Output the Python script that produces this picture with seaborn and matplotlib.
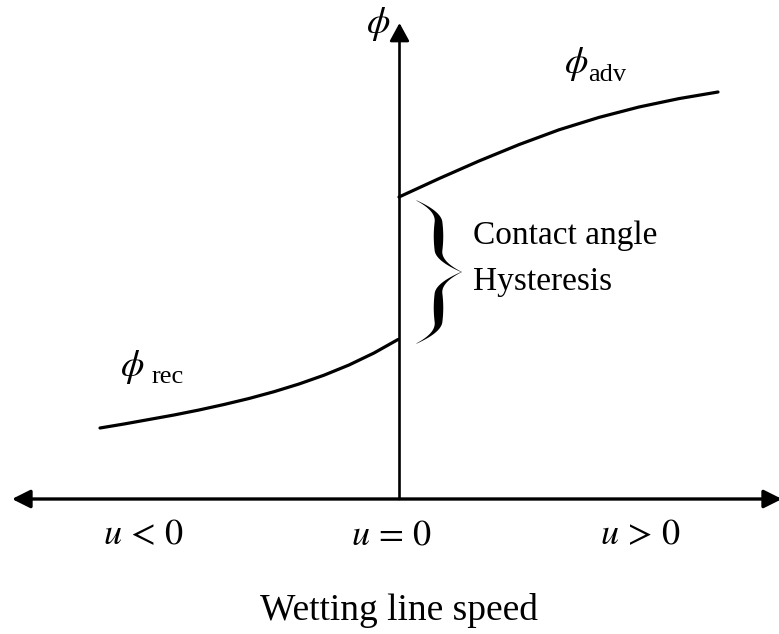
import numpy as np
import pandas as pd
import matplotlib
matplotlib.use("Agg")
import matplotlib.pyplot as plt
import seaborn as sns

# ---- data (u = wetting line speed, phi = contact angle; schematic units) ----
adv_u = [0, 40, 80, 120, 160, 200, 240, 280, 319]
adv_phi = [302, 320.4, 338, 354.4, 369.2, 381.6, 392, 400.4, 407]
rec_u = [-299, -275, -250, -225, -200, -175, -150, -125, -100, -75, -50, -25, -1]
rec_phi = [71, 75, 79.5, 84, 89, 94.5, 100.5, 107.3, 115, 123.8, 134, 146, 159.5]
tick_labels = [r"$u\,<\,0$", r"$u\,=\,0$", r"$u\,>\,0$"]
tick_pos = [-255, -7, 242]
x_label = "Wetting line speed"
annot_lines = ["Contact angle", "Hysteresis"]

sns.set_theme(style="white")
plt.rcParams["font.family"] = ["Liberation Serif", "DejaVu Serif"]
plt.rcParams["mathtext.fontset"] = "stix"
plt.rcParams["text.color"] = "black"

fig = plt.figure(figsize=(7.79, 6.34), dpi=100)
ax = fig.add_axes([0, 0, 1, 1])
ax.set_xlim(-399, 380)
ax.set_ylim(-135, 499)
ax.axis("off")

df_adv = pd.DataFrame({"u": adv_u, "phi": adv_phi})
df_rec = pd.DataFrame({"u": rec_u, "phi": rec_phi})
sns.lineplot(data=df_adv, x="u", y="phi", ax=ax, color="black", lw=2.3, sort=False)
sns.lineplot(data=df_rec, x="u", y="phi", ax=ax, color="black", lw=2.3, sort=False)

# axes arrows
ax.annotate("", xy=(-387, 0), xytext=(383, 0),
            arrowprops=dict(arrowstyle="<|-|>,head_length=11,head_width=5.5",
                            mutation_scale=1, lw=2.4, color="black",
                            shrinkA=0, shrinkB=0))
ax.annotate("", xy=(0.5, 476), xytext=(0.5, 0),
            arrowprops=dict(arrowstyle="-|>,head_length=11,head_width=6",
                            mutation_scale=1, lw=1.9, color="black",
                            shrinkA=0, shrinkB=0))

# curly brace
def brace(ax, x_end, x_body, x_tip, y_top, y_bot, k=0.3, wmax=9.5, wmin=0.8):
    y_mid = 0.5 * (y_top + y_bot)
    s = np.linspace(0, 1, 400)
    g = lambda t: np.where(t < k, (1 - t / k) ** 2, 0.0)
    xc = x_body + (x_end - x_body) * g(s) + (x_tip - x_body) * g(1 - s)
    w = wmin + (wmax - wmin) * np.sin(np.pi * s) ** 1.1
    yt = y_top + (y_mid - y_top) * s
    yb = y_bot + (y_mid - y_bot) * s
    ax.fill_betweenx(yt, xc - w / 2, xc + w / 2, color="black", lw=0)
    ax.fill_betweenx(yb, xc - w / 2, xc + w / 2, color="black", lw=0)

brace(ax, 17, 39, 62, 299, 156)

# labels
ax.text(-21, 475, r"$\phi$", fontsize=27, ha="center", va="center", color="black")
ax.text(177, 435, r"$\phi$", fontsize=27, ha="center", va="center", color="black")
ax.text(208, 424, "adv", fontsize=19, ha="center", va="center", color="black")
ax.text(-267, 132, r"$\phi$", fontsize=27, ha="center", va="center", color="black")
ax.text(-231, 122, "rec", fontsize=19, ha="center", va="center", color="black")

ax.text(74, 263, annot_lines[0], fontsize=24, ha="left", va="center", color="black")
ax.text(74, 217, annot_lines[1], fontsize=24, ha="left", va="center", color="black")

for p, lab in zip(tick_pos, tick_labels):
    ax.text(p, -37, lab, fontsize=26, ha="center", va="center", color="black")

ax.text(0, -111, x_label, fontsize=27, ha="center", va="center", color="black")

fig.savefig("out.png", dpi=100)
